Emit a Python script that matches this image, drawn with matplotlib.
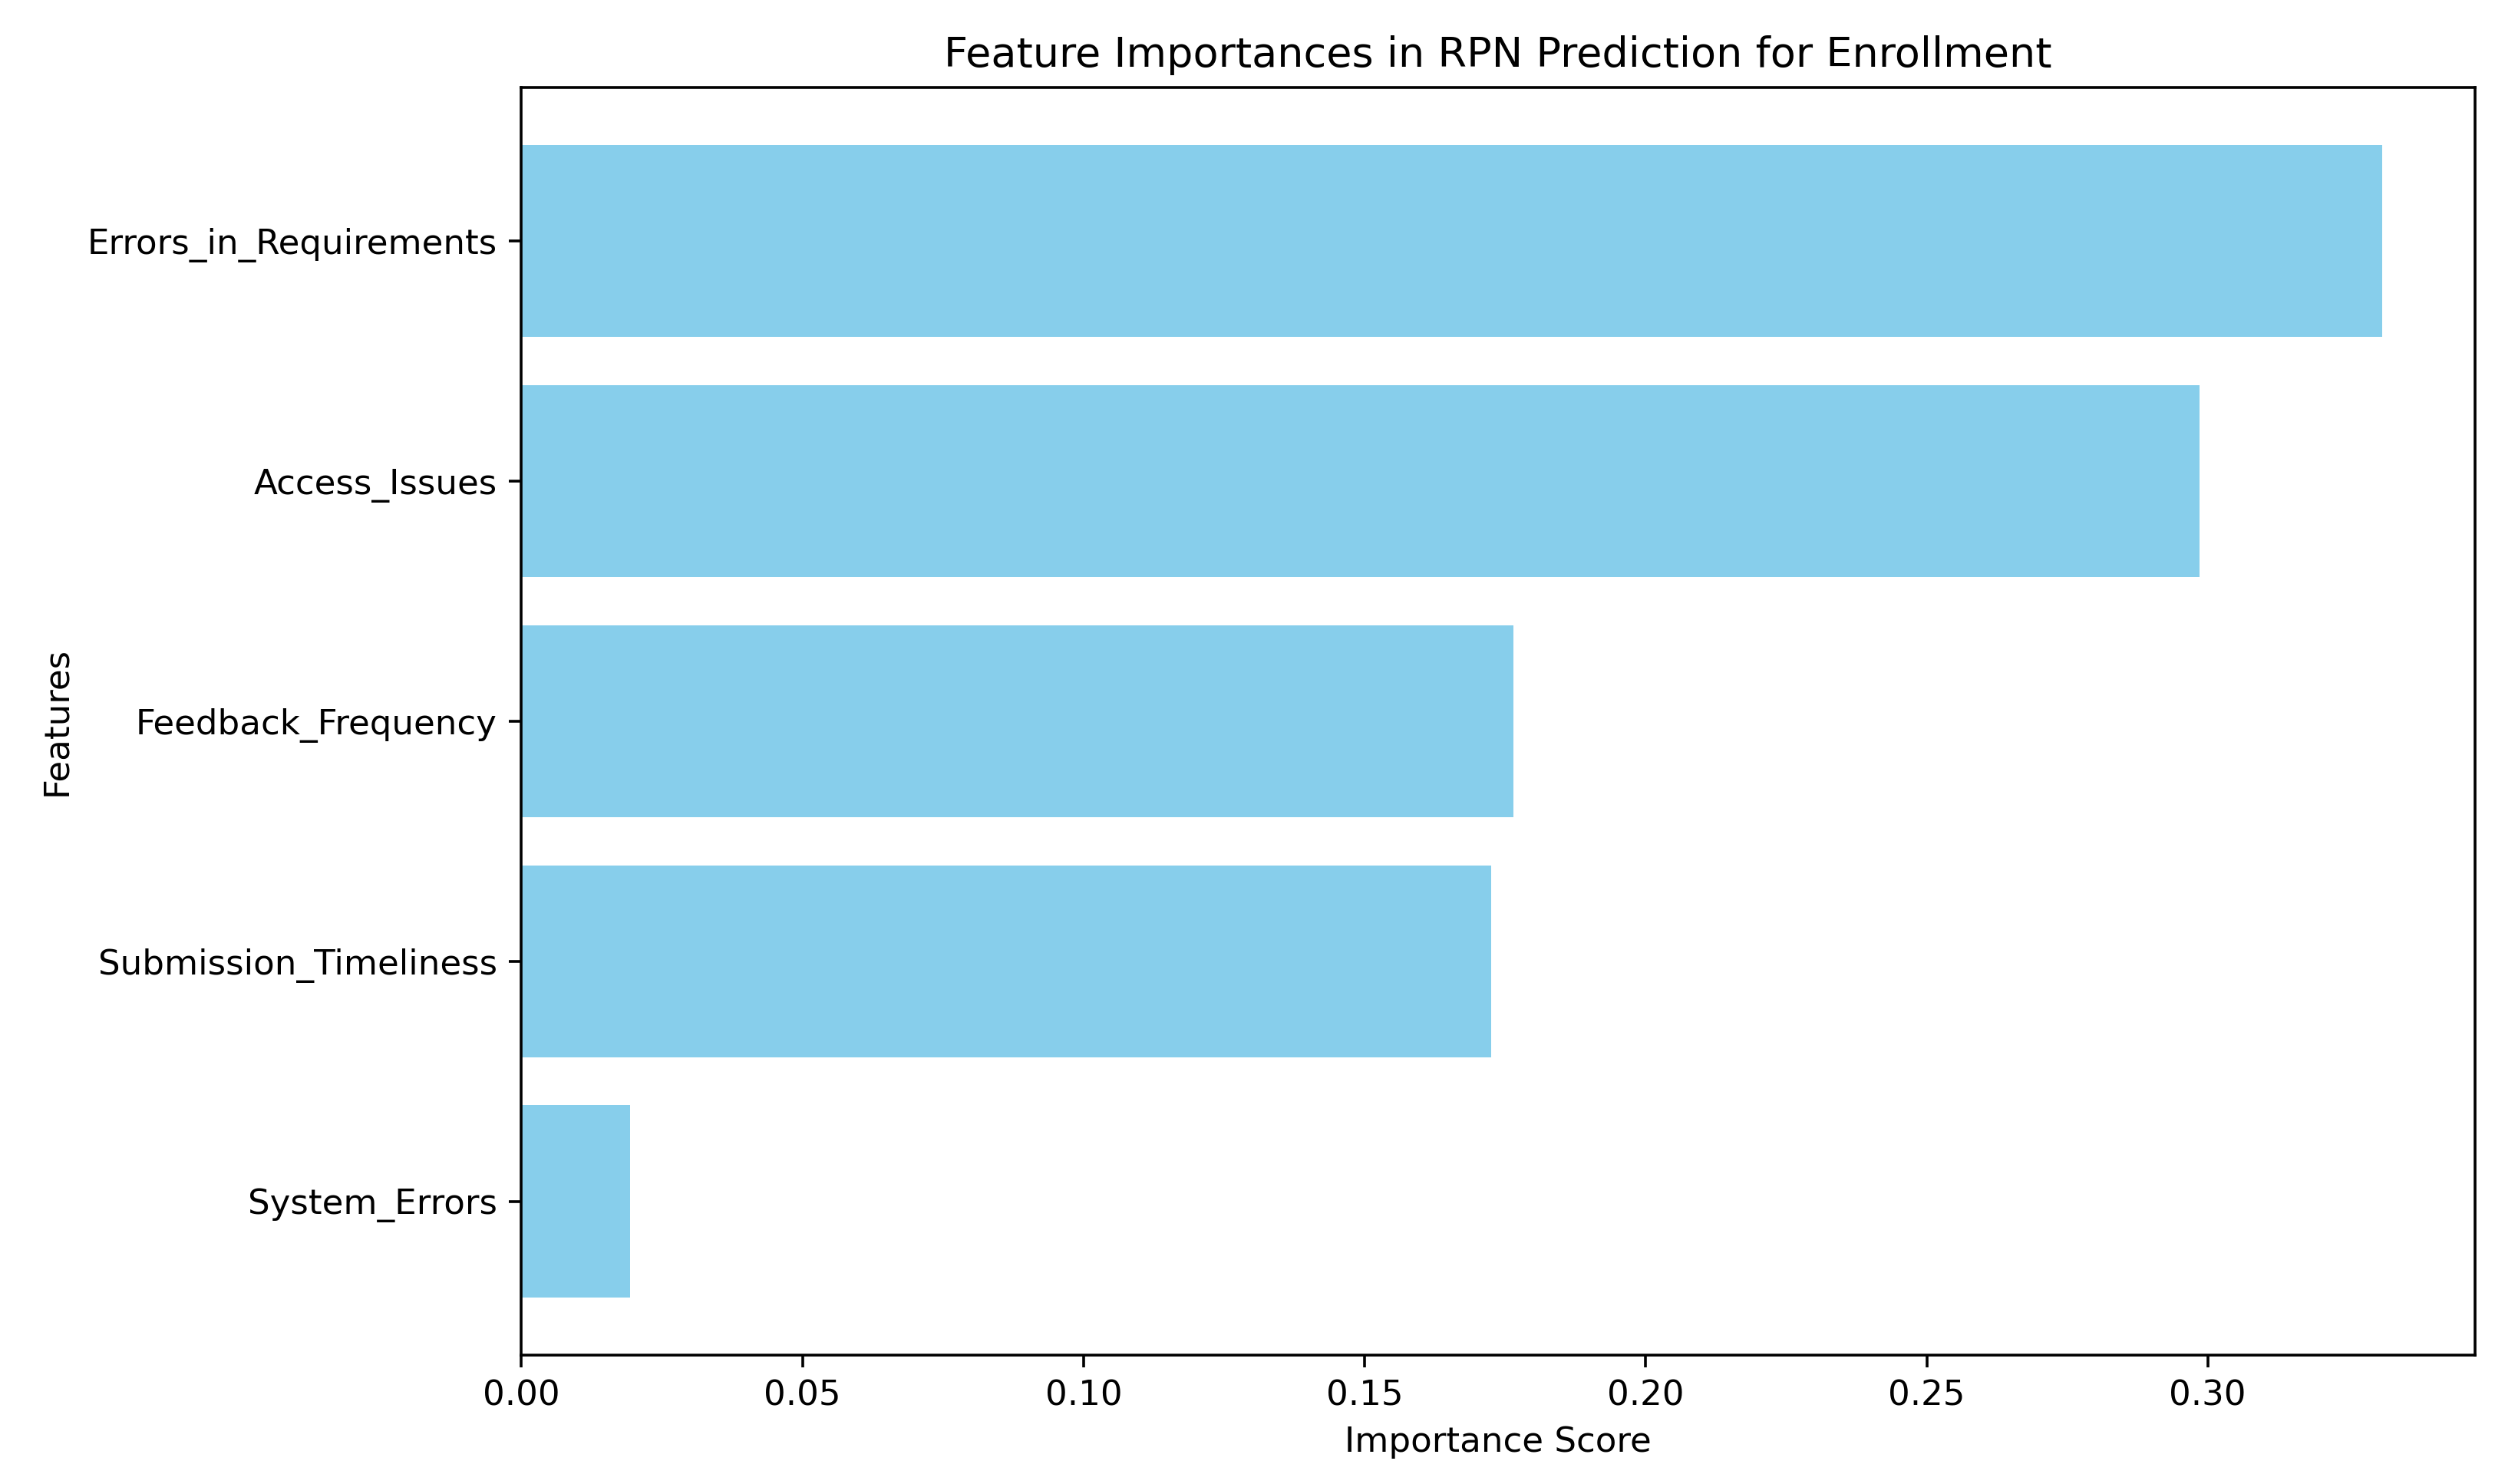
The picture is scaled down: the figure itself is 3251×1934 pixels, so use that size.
import matplotlib
matplotlib.use("Agg")
import matplotlib.pyplot as plt

features = ["System_Errors", "Submission_Timeliness", "Feedback_Frequency",
            "Access_Issues", "Errors_in_Requirements"]
importances = [0.0193, 0.1725, 0.1765, 0.2985, 0.331]

fig = plt.figure(figsize=(3251/325, 1934/325), dpi=325)
ax = fig.add_axes([0.209, 0.087, 0.783, 0.854])
ax.barh(features, importances, color="skyblue")
ax.set_xlabel("Importance Score")
ax.set_ylabel("Features")
ax.set_title("Feature Importances in RPN Prediction for Enrollment")
fig.savefig("out.png", dpi=325)
